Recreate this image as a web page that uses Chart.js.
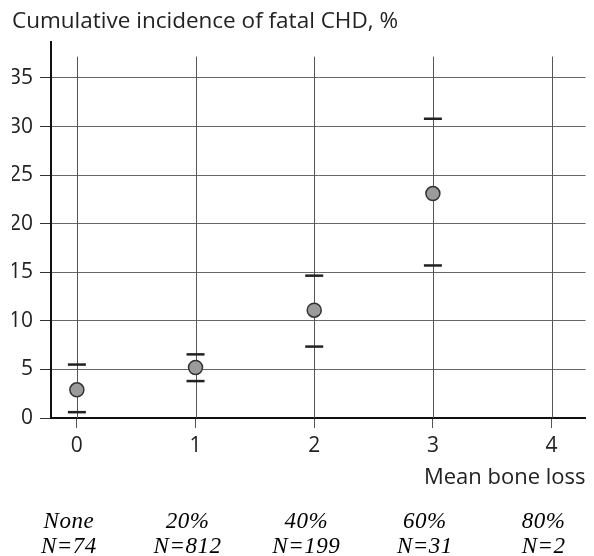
<!DOCTYPE html>
<html>
<head>
<meta charset="utf-8">
<script src="https://cdn.jsdelivr.net/npm/chart.js@4.4.0/dist/chart.umd.min.js"></script>
<style>
    html, body { margin: 0; padding: 0; background: #fff; }
    #wrap { position: relative; width: 594px; height: 556px; }
</style>
</head>
<body>
<div id="wrap"><canvas id="chd"></canvas></div>
<script>
// Fatal CHD incidence by mean bone loss
const boneLoss = [0, 1, 2, 3];
const incidence = [2.9, 5.2, 11.1, 23.1];
const ciLower = [0.6, 3.8, 7.35, 15.7];
const ciUpper = [5.5, 6.55, 14.65, 30.8];

const xTicks = [0, 1, 2, 3, 4];
const yTicks = [0, 5, 10, 15, 20, 25, 30, 35];
const lossLabels = ['None', '20%', '40%', '60%', '80%'];
const groupSizes = ['N=74', 'N=812', 'N=199', 'N=31', 'N=2'];

const sans = '"Open Sans", "Noto Sans", sans-serif';

// vertical grid lines (stop short of the top) + error bar caps
const barsPlugin = {
    id: 'bars',
    beforeDatasetsDraw(chart) {
        const { ctx, chartArea, scales: { x, y } } = chart;
        ctx.save();
        ctx.strokeStyle = '#555';
        ctx.lineWidth = 1;
        xTicks.forEach(v => {
            const px = Math.round(x.getPixelForValue(v)) + 0.5;
            ctx.beginPath();
            ctx.moveTo(px, y.getPixelForValue(37.2));
            ctx.lineTo(px, chartArea.bottom);
            ctx.stroke();
        });
        ctx.strokeStyle = '#222';
        ctx.lineWidth = 2.5;
        boneLoss.forEach((v, i) => {
            const px = x.getPixelForValue(v);
            [ciLower[i], ciUpper[i]].forEach(val => {
                const py = y.getPixelForValue(val);
                ctx.beginPath();
                ctx.moveTo(px - 9, py);
                ctx.lineTo(px + 9, py);
                ctx.stroke();
            });
        });
        ctx.restore();
    },
    afterDraw(chart) {
        // percentage / group size rows under the axis
        const { ctx, scales: { x } } = chart;
        ctx.save();
        ctx.fillStyle = '#000';
        ctx.font = 'italic 23px "Liberation Serif", "DejaVu Serif", serif';
        ctx.letterSpacing = '0.5px';
        ctx.textAlign = 'center';
        ctx.textBaseline = 'alphabetic';
        xTicks.forEach((v, i) => {
            const px = x.getPixelForValue(v) - 8;
            ctx.fillText(lossLabels[i], px, chart.height - 28);
            ctx.fillText(groupSizes[i], px, chart.height - 3);
        });
        ctx.restore();
    }
};

new Chart(document.getElementById('chd'), {
    type: 'scatter',
    data: {
        datasets: [{
            label: 'Fatal CHD',
            data: boneLoss.map((v, i) => ({ x: v, y: incidence[i] })),
            backgroundColor: '#9b9b9b',
            borderColor: '#333',
            borderWidth: 1.5,
            pointRadius: 7,
            pointHoverRadius: 7
        }]
    },
    options: {
        responsive: true,
        maintainAspectRatio: false,
        animation: false,
        events: [],
        layout: { padding: { left: 12, right: 7, top: 0, bottom: 62 } },
        plugins: {
            legend: { display: false },
            tooltip: { enabled: false },
            title: {
                display: true,
                text: 'Cumulative incidence of fatal CHD, %',
                align: 'start',
                color: '#222',
                font: { family: sans, size: 22.5, weight: 'normal' },
                padding: { top: 8, bottom: 7 }
            }
        },
        scales: {
            x: {
                type: 'linear',
                min: -0.218,
                max: 4.286,
                afterFit: s => { s.height = 76; },
                afterBuildTicks: s => { s.ticks = xTicks.map(v => ({ value: v })); },
                grid: { drawOnChartArea: false, tickLength: 10, tickColor: '#555', lineWidth: 1 },
                border: { display: true, color: '#111', width: 2 },
                ticks: { color: '#222', padding: 5, font: { family: sans, size: 21 } },
                title: {
                    display: true,
                    text: 'Mean bone loss',
                    align: 'end',
                    color: '#222',
                    font: { family: sans, size: 22 },
                    padding: { top: 0, bottom: 3 }
                }
            },
            y: {
                min: 0,
                max: 38.7,
                afterFit: s => { s.width = 39; },
                afterBuildTicks: s => { s.ticks = yTicks.map(v => ({ value: v })); },
                grid: { color: '#666', lineWidth: 1, tickLength: 11, tickColor: '#333' },
                border: { display: true, color: '#111', width: 2 },
                ticks: { color: '#222', padding: 7, font: { family: sans, size: 21 } }
            }
        }
    },
    plugins: [barsPlugin]
});
</script>
</body>
</html>
